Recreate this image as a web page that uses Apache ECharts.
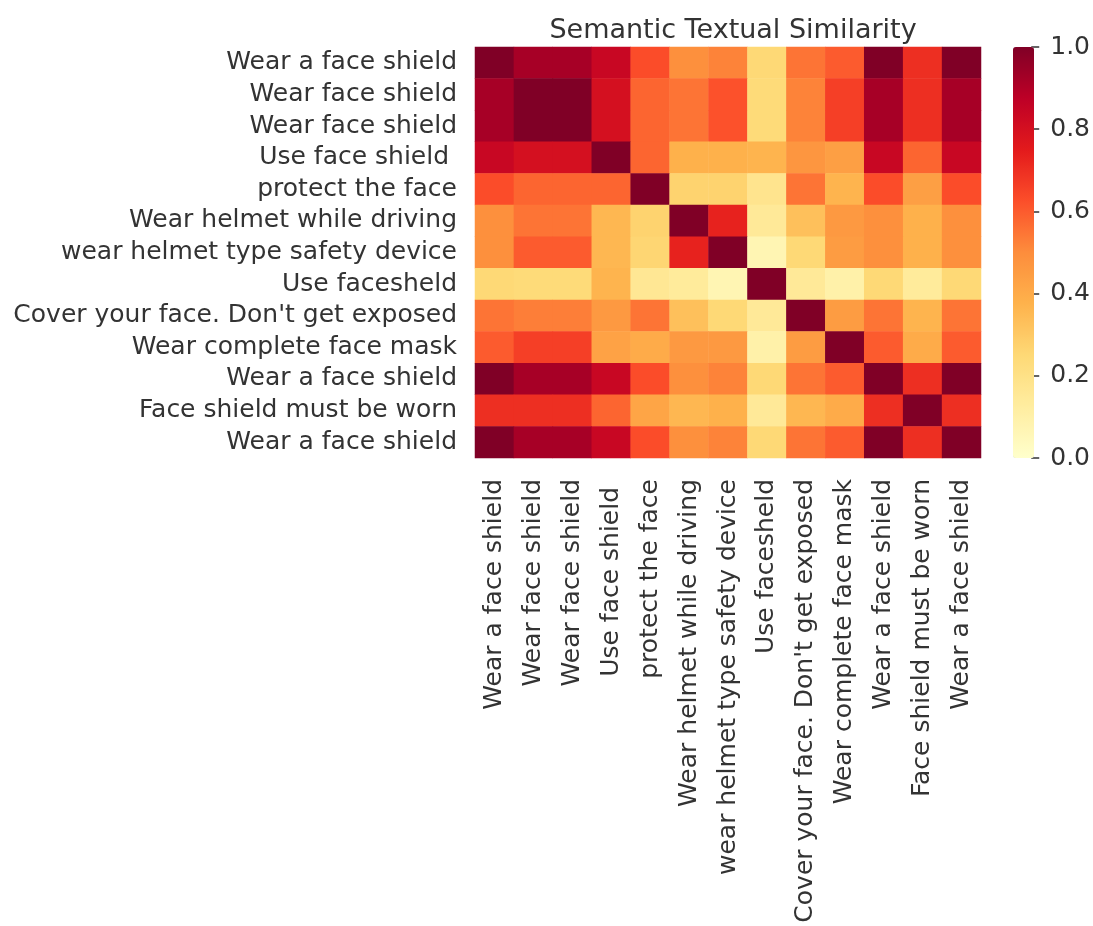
<!DOCTYPE html>
<html>
<head>
    <meta charset="utf-8">
    <title>Semantic Textual Similarity</title>
    <script src="https://cdn.jsdelivr.net/npm/echarts@6/dist/echarts.min.js"></script>
    <style>
        html, body { margin: 0; padding: 0; background: #fff; }
        #main { width: 1093px; height: 926px; }
    </style>
</head>
<body>
    <div id="main"></div>
    <script type="text/javascript">
        // sentences (rows and columns are the same list)
        var labels = [
            'Wear a face shield',
            'Wear face shield',
            'Wear face shield',
            'Use face shield ',
            'protect the face',
            'Wear helmet while driving',
            'wear helmet type safety device',
            'Use facesheld',
            "Cover your face. Don't get exposed",
            'Wear complete face mask',
            'Wear a face shield',
            'Face shield must be worn',
            'Wear a face shield'
        ];

        // similarity values, one row per sentence
        var row0  = [1.00, 0.92, 0.92, 0.84, 0.63, 0.49, 0.52, 0.25, 0.55, 0.60, 1.00, 0.70, 1.00];
        var row1  = [0.92, 1.00, 1.00, 0.80, 0.58, 0.55, 0.62, 0.24, 0.52, 0.66, 0.92, 0.70, 0.92];
        var row2  = [0.92, 1.00, 1.00, 0.80, 0.58, 0.55, 0.62, 0.24, 0.52, 0.66, 0.92, 0.70, 0.92];
        var row3  = [0.84, 0.80, 0.80, 1.00, 0.58, 0.38, 0.38, 0.37, 0.47, 0.44, 0.84, 0.58, 0.84];
        var row4  = [0.63, 0.58, 0.58, 0.58, 1.00, 0.27, 0.27, 0.18, 0.55, 0.37, 0.63, 0.44, 0.63];
        var row5  = [0.49, 0.55, 0.55, 0.36, 0.27, 1.00, 0.73, 0.15, 0.33, 0.46, 0.49, 0.38, 0.49];
        var row6  = [0.49, 0.60, 0.60, 0.36, 0.26, 0.73, 1.00, 0.07, 0.25, 0.45, 0.49, 0.38, 0.49];
        var row7  = [0.25, 0.24, 0.24, 0.37, 0.16, 0.14, 0.07, 1.00, 0.15, 0.10, 0.25, 0.14, 0.25];
        var row8  = [0.55, 0.53, 0.53, 0.46, 0.55, 0.33, 0.25, 0.15, 1.00, 0.45, 0.55, 0.37, 0.55];
        var row9  = [0.60, 0.66, 0.66, 0.43, 0.40, 0.46, 0.46, 0.10, 0.45, 1.00, 0.60, 0.40, 0.60];
        var row10 = [1.00, 0.92, 0.92, 0.84, 0.63, 0.49, 0.52, 0.25, 0.55, 0.60, 1.00, 0.70, 1.00];
        var row11 = [0.70, 0.70, 0.70, 0.58, 0.42, 0.36, 0.38, 0.15, 0.36, 0.40, 0.70, 1.00, 0.70];
        var row12 = [1.00, 0.92, 0.92, 0.84, 0.63, 0.49, 0.52, 0.25, 0.55, 0.60, 1.00, 0.70, 1.00];

        var rows = [row0, row1, row2, row3, row4, row5, row6, row7, row8, row9, row10, row11, row12];

        // colorbar ticks
        var barMin = 0, barMax = 1, barStep = 0.2;

        // YlOrRd
        var ylOrRd = ['#ffffcc', '#ffeda0', '#fed976', '#feb24c', '#fd8d3c',
                      '#fc4e2a', '#e31a1c', '#bd0026', '#800026'];

        var cells = [];
        rows.forEach(function (r, y) {
            r.forEach(function (v, x) {
                cells.push([x, y, v]);
            });
        });

        var idx = labels.map(function (_, i) { return String(i); });
        var fmt = function (v) { return labels[+v]; };

        var textColor = '#333';
        var font = 'DejaVu Sans';

        var myChart = echarts.init(document.getElementById('main'));

        var option = {
            backgroundColor: '#fff',
            animation: false,
            title: {
                text: 'Semantic Textual Similarity',
                left: 728,
                top: 12,
                textAlign: 'center',
                textStyle: { fontFamily: font, fontSize: 27, fontWeight: 'normal', color: textColor }
            },
            grid: [
                { left: 475, top: 47, width: 506, height: 411 },
                { left: 1013, top: 47, width: 21, height: 411 }
            ],
            xAxis: [
                {
                    type: 'category', gridIndex: 0, data: idx,
                    axisLine: { show: false }, axisTick: { show: false },
                    splitLine: { show: false },
                    axisLabel: {
                        rotate: 90, interval: 0, margin: 21, formatter: fmt,
                        fontFamily: font, fontSize: 25, color: textColor
                    }
                },
                { type: 'category', gridIndex: 1, show: false, data: ['c'] }
            ],
            yAxis: [
                {
                    type: 'category', gridIndex: 0, data: idx, inverse: true,
                    axisLine: { show: false }, axisTick: { show: false },
                    splitLine: { show: false },
                    axisLabel: {
                        interval: 0, margin: 18, formatter: fmt,
                        fontFamily: font, fontSize: 25, color: textColor
                    }
                },
                {
                    type: 'value', gridIndex: 1, position: 'right',
                    min: barMin, max: barMax, interval: barStep,
                    axisLine: { show: true, onZero: false, lineStyle: { color: 'rgba(0,0,0,0)' } },
                    splitLine: { show: false },
                    axisTick: { show: true, inside: false, length: 8, lineStyle: { color: textColor, width: 1.5 } },
                    axisLabel: {
                        margin: 19, fontFamily: font, fontSize: 25, color: textColor,
                        formatter: function (v) { return v.toFixed(1); }
                    }
                }
            ],
            visualMap: {
                type: 'continuous',
                min: barMin, max: barMax,
                calculable: false,
                orient: 'vertical',
                left: 1013, top: 47,
                padding: 0,
                itemWidth: 21, itemHeight: 411,
                text: ['', ''],
                showLabel: false,
                seriesIndex: 0,
                inRange: { color: ylOrRd }
            },
            series: [
                {
                    type: 'heatmap',
                    xAxisIndex: 0, yAxisIndex: 0,
                    data: cells,
                    itemStyle: { borderWidth: 0 },
                    emphasis: { disabled: true }
                }
            ]
        };

        myChart.setOption(option);
    </script>
</body>
</html>
